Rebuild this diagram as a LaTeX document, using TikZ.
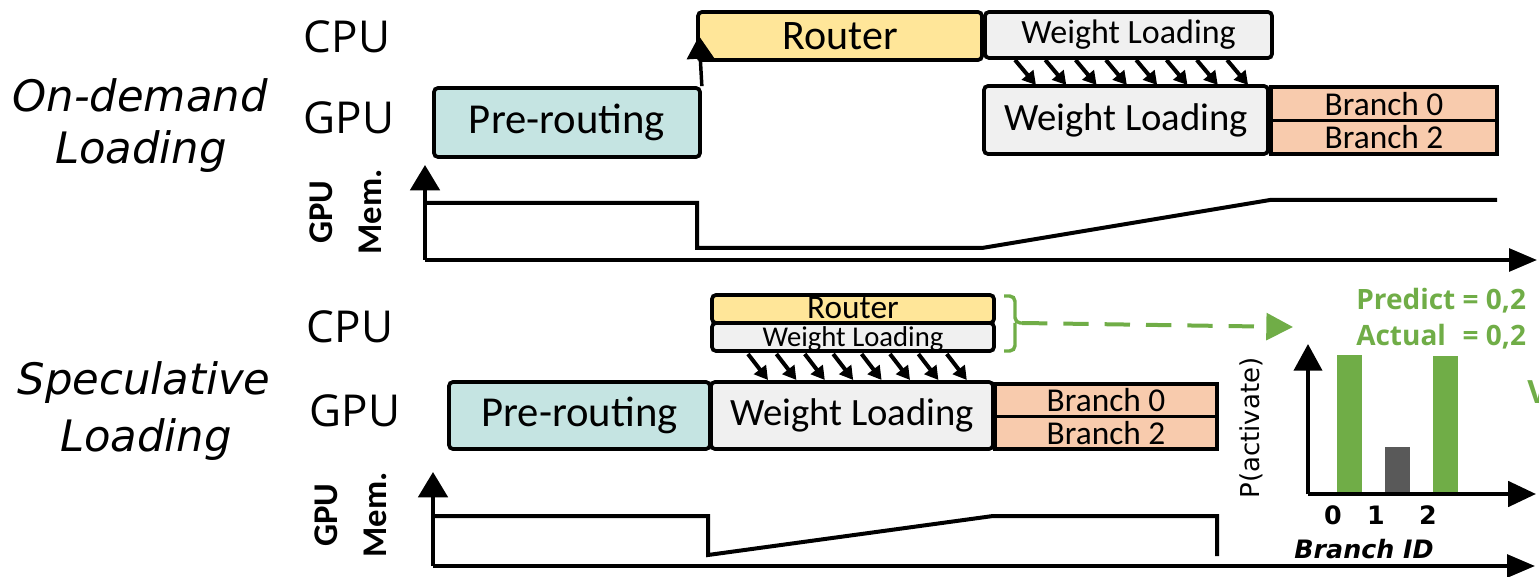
\documentclass[tikz,border=0pt]{standalone}
\usepackage{fontspec}
\setmainfont{Carlito}
\newfontfamily\labfont{Open Sans}
\newfontfamily\obqfont{DejaVu Sans}
\usetikzlibrary{arrows.meta,fit}

\definecolor{routerY}{HTML}{FFE699}
\definecolor{preT}{HTML}{C5E4E2}
\definecolor{wlG}{HTML}{F0F0F0}
\definecolor{brS}{HTML}{F8CBAD}
\definecolor{accG}{HTML}{70AD47}
\definecolor{barD}{HTML}{595959}

\tikzset{
  box/.style={draw=black, line width=2.8pt, rounded corners=3pt, inner sep=0pt},
  boxsq/.style={draw=black, line width=2.8pt, inner sep=0pt},
  memline/.style={line width=3pt, line join=miter},
  axis/.style={line width=3pt, -{Triangle[length=19pt,width=22pt]}},
  xaxis/.style={line width=3pt, -{Triangle[length=21pt,width=17pt]}},
  feed/.style={line width=3pt, -{Triangle[length=10pt,width=11pt]}},
  rowlab/.style={font=\labfont\fontsize{33}{36}\selectfont},
  sidelab/.style={font=\obqfont\itshape\fontsize{32.5}{36}\selectfont},
  memlab/.style={font=\bfseries\fontsize{26}{37}\selectfont, rotate=90, align=center},
}

\begin{document}
\begin{tikzpicture}[x=0.75pt, y=-0.75pt]
\useasboundingbox (0,0) rectangle (1539,577);
\clip (0,0) rectangle (1539,577);

% ---------------- On-demand loading ----------------
\node[rowlab] (cpuA) at (347,37) {CPU};
\node[rowlab] (gpuA) at (349,118) {GPU};
\node[sidelab] (odA) at (140,95) {On-demand};
\node[sidelab] (odB) at (141,152) {Loading};
\node[memlab] (memA) at (346,212) {GPU\\Mem.};

\node[box, fill=preT, fit={(434,88) (700,157)}] (preA) {};
\node[font=\fontsize{32}{36}\selectfont] (preAt) at (preA) {Pre-routing};
\node[box, fill=routerY, fit={(698,12) (982,60)}] (rtA) {};
\node[font=\fontsize{31.5}{36}\selectfont] (rtAt) at (rtA) {Router};
\node[box, fill=wlG, fit={(985,12) (1272,58)}] (wlcA) {};
\node[font=\fontsize{25.5}{30}\selectfont] (wlcAt) at (wlcA) {Weight Loading};
\node[box, fill=wlG, fit={(984,86) (1268,154)}] (wlgA) {};
\node[font=\fontsize{29}{32}\selectfont] (wlgAt) at (wlgA) {Weight Loading};
\node[boxsq, fill=brS, fit={(1271,87) (1497,120.5)}] (b0A) {};
\node[font=\fontsize{25}{30}\selectfont] at (b0A) {Branch 0};
\node[boxsq, fill=brS, fit={(1271,120.5) (1497,154)}] (b2A) {};
\node[font=\fontsize{25}{30}\selectfont] at (b2A) {Branch 2};

% routing hand-off from GPU to CPU
\coordinate (hopA) at (699,36);
\draw[line width=2.6pt, -{Triangle[length=17pt,width=20pt]}] (preA.north east) -- (hopA);

% host-to-device weight copies
\foreach \i in {0,...,7} {
  \coordinate (fsA\i) at ({1015+\i*30.3},60);
  \coordinate (feA\i) at ({1036+\i*30.3},85);
  \draw[feed] (fsA\i) -- (feA\i);
}

% memory trace
\coordinate (oA) at (425,260);
\coordinate (yA) at (425,165);
\coordinate (xA) at (1537,260);
\draw[axis] (oA) -- (yA);
\draw[xaxis] (oA) -- (xA);
\draw[memline] (425,203) -- (697,203) -- (697,248) -- (982,248) -- (1270,200) -- (1497,200);

% ---------------- Speculative loading ----------------
\node[rowlab] (cpuB) at (350,327) {CPU};
\node[rowlab] (gpuB) at (355,411) {GPU};
\node[sidelab] (spA) at (144,383) {Speculative};
\node[sidelab] (spB) at (146,440) {Loading};
\node[memlab] (memB) at (351,515) {GPU\\Mem.};

\node[box, fill=routerY, fit={(712,295) (994,323)}] (rtB) {};
\node[font=\fontsize{25}{28}\selectfont, yshift=1pt] at (rtB) {Router};
\node[box, fill=wlG, fit={(712,323) (994,351)}] (wlcB) {};
\node[font=\fontsize{21.5}{26}\selectfont, yshift=-1.5pt] at (wlcB) {Weight Loading};

\node[box, fill=preT, fit={(449,382) (710,449)}] (preB) {};
\node[font=\fontsize{32}{36}\selectfont] at (preB) {Pre-routing};
\node[box, fill=wlG, fit={(711,382) (993,449)}] (wlgB) {};
\node[font=\fontsize{29}{32}\selectfont] at (wlgB) {Weight Loading};
\node[boxsq, fill=brS, fit={(995,384) (1217,416.5)}] (b0B) {};
\node[font=\fontsize{25}{30}\selectfont] at (b0B) {Branch 0};
\node[boxsq, fill=brS, fit={(995,416.5) (1217,449)}] (b2B) {};
\node[font=\fontsize{25}{30}\selectfont] at (b2B) {Branch 2};

\foreach \i in {0,...,7} {
  \coordinate (fsB\i) at ({748+\i*28.4},354);
  \coordinate (feB\i) at ({768+\i*28.4},380);
  \draw[feed] (fsB\i) -- (feB\i);
}

\coordinate (oB) at (433,566);
\coordinate (yB) at (433,472);
\coordinate (xB) at (1535,566);
\draw[axis] (oB) -- (yB);
\draw[xaxis] (oB) -- (xB);
\draw[memline] (433,516) -- (708,516) -- (708,555) -- (993,516) -- (1217,516) -- (1217,556);

% prediction hand-off
\coordinate (brTop) at (1004,296);
\coordinate (brTip) at (1022,323);
\coordinate (brBot) at (1004,351);
\draw[accG, line width=2.6pt, rounded corners=4pt]
  (brTop) -- (1015,296) -- (1015,323) -- (brTip);
\draw[accG, line width=2.6pt, rounded corners=4pt]
  (brBot) -- (1015,351) -- (1015,323);
\coordinate (pred) at (1293,327);
\draw[accG, line width=3pt, dash pattern=on 19pt off 12pt, -{Triangle[length=20pt,width=20pt]}] (brTip) -- (pred);

\node[accG, anchor=north west, inner sep=0pt, font=\labfont\bfseries\fontsize{21}{27}\selectfont] (predT) at (1356,284)
  {\begin{tabular}{@{}l@{\ }l@{}}Predict &= 0,2\\Actual &= 0,2\end{tabular}};
\node[accG, anchor=west, inner sep=0pt, font=\labfont\bfseries\fontsize{24}{27}\selectfont] (okT) at (1527,392) {V};

% activation histogram
\coordinate (oC) at (1308,494);
\coordinate (yC) at (1308,344);
\coordinate (xC) at (1536,494);
\fill[accG] (1337,355) rectangle (1362,494);
\fill[barD] (1385,447) rectangle (1410,494);
\fill[accG] (1433,356) rectangle (1458,494);
\draw[line width=3pt, -{Triangle[length=20pt,width=21pt]}] (oC) -- (yC);
\draw[line width=3pt, -{Triangle[length=21pt,width=19pt]}] (oC) -- (xC);
\node[font=\obqfont\fontsize{19.5}{22}\selectfont, rotate=90] (pact) at (1251,428) {P(activate)};
\node[font=\obqfont\bfseries\fontsize{19}{22}\selectfont] (t0) at (1333,515) {0};
\node[font=\obqfont\bfseries\fontsize{19}{22}\selectfont] (t1) at (1376,515) {1};
\node[font=\obqfont\bfseries\fontsize{19}{22}\selectfont] (t2) at (1428,515) {2};
\node[font=\obqfont\bfseries\itshape\fontsize{19}{22}\selectfont] (bid) at (1364,549) {Branch ID};
\end{tikzpicture}
\end{document}
